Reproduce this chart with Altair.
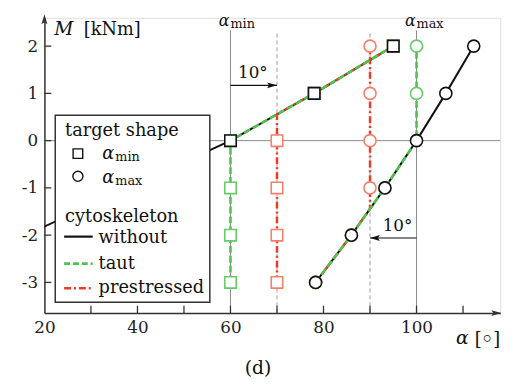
import altair as alt
import pandas as pd

# ---------------- data ----------------
M_levels = [-3, -2, -1, 0, 1, 2]

without_sq_alpha = [-6, 16, 38, 60, 78, 95]
without_ci_alpha = [78.3, 86, 93.2, 100, 106.3, 112.3]

taut_sq_alpha = [60, 60, 60, 60, 78, 95]
taut_ci_alpha = [78.3, 86, 93.2, 100, 100, 100]

pre_sq_alpha = [70, 70, 70, 70, 78, 95]
pre_ci_alpha = [78.3, 86, 90, 90, 90, 90]
# where the prestressed vertical branch meets the sloped branch
pre_sq_kink = (70, 0.56)
pre_ci_kink = (90, -1.44)

x_tick_labels = [20, 40, 60, 80, 100]
x_minor_ticks = [30, 40, 50, 60, 70, 80, 90, 100, 110]
y_tick_labels = [-3, -2, -1, 0, 1, 2]
ref_solid = [60, 100]
ref_dashed = [70, 90]

FONT = "DejaVu Serif"
BLACK = "#111111"
GREEN_L = "#4DC24D"
GREEN_M = "#66CC66"
RED_L = "#EE3B24"
RED_M = "#F5806A"
AX = "#333333"

W, H = 463, 300
xs = alt.Scale(domain=[20, 118], nice=False, zero=False)
ys = alt.Scale(domain=[-3.65, 2.6], nice=False, zero=False)
xa = alt.Axis(values=x_tick_labels, ticks=False, grid=False, domainColor=AX, domainWidth=1.5,
              labelFont=FONT, labelFontSize=17, labelColor="#222", labelPadding=7, labelFlush=False)
ya = alt.Axis(values=y_tick_labels, ticks=False, grid=False, domainColor=AX, domainWidth=1.5,
              labelFont=FONT, labelFontSize=17, labelColor="#222", labelPadding=7,
              labelExpr="'' + datum.value", labelFlush=False)


def X(f="x"):
    return alt.X(f"{f}:Q", scale=xs, axis=xa, title=None)


def Y(f="y"):
    return alt.Y(f"{f}:Q", scale=ys, axis=ya, title=None)


def path_df(xv, yv, kink=None, tag="a"):
    pts = list(zip(xv, yv))
    if kink is not None:
        out = []
        for i, p in enumerate(pts):
            out.append(p)
            if i + 1 < len(pts):
                q = pts[i + 1]
                lo, hi = min(p[1], q[1]), max(p[1], q[1])
                if lo < kink[1] < hi:
                    out.append(kink)
        pts = out
    return pd.DataFrame({"x": [p[0] for p in pts], "y": [p[1] for p in pts],
                         "i": list(range(len(pts))), "t": tag})


one = pd.DataFrame({"a": [0]})

# ---------------- reference lines ----------------
ref_top = 2.33
refs_solid = alt.Chart(pd.DataFrame({"x": ref_solid, "y": -3.65, "y2": ref_top})).mark_rule(
    color="#8a8a8a", strokeWidth=1).encode(x=X(), y=Y(), y2="y2:Q")
refs_dash = alt.Chart(pd.DataFrame({"x": ref_dashed, "y": -3.65, "y2": ref_top})).mark_rule(
    color="#9a9a9a", strokeWidth=1, strokeDash=[4, 3]).encode(x=X(), y=Y(), y2="y2:Q")
hline = alt.Chart(pd.DataFrame({"x": [20], "x2": [118], "y": [0]})).mark_rule(
    color="#8a8a8a", strokeWidth=1).encode(x=X(), x2="x2:Q", y=Y())

# axis ticks pointing inward
xticks = alt.Chart(pd.DataFrame({"x": x_minor_ticks})).mark_rule(color=AX, strokeWidth=1.3).encode(
    x=X(), y=alt.value(H), y2=alt.value(H - 7.5))
yticks = alt.Chart(pd.DataFrame({"y": y_tick_labels})).mark_rule(color=AX, strokeWidth=1.3).encode(
    y=Y(), x=alt.value(0), x2=alt.value(7))
arrow_up = "M0,0 L0.6,2 L0,1.6 L-0.6,2 Z"
arrow_right = "M0,0 L-2,-0.6 L-1.6,0 L-2,0.6 Z"
arrow_left = "M0,0 L2,-0.6 L1.6,0 L2,0.6 Z"
yarrow = alt.Chart(one).mark_point(shape=arrow_up, filled=True, color=AX, size=100, opacity=1).encode(
    x=alt.value(0), y=alt.value(-3.5))
xarrow = alt.Chart(one).mark_point(shape=arrow_right, filled=True, color=AX, size=100, opacity=1).encode(
    x=alt.value(464), y=alt.value(H))

# ---------------- curves ----------------
black_df = pd.concat([path_df(without_sq_alpha, M_levels, tag="sq"),
                      path_df(without_ci_alpha, M_levels, tag="ci")])
green_df = pd.concat([path_df(taut_sq_alpha, M_levels, tag="sq"),
                      path_df(taut_ci_alpha, M_levels, tag="ci")])
red_df = pd.concat([path_df(pre_sq_alpha, M_levels, pre_sq_kink, tag="sq"),
                    path_df(pre_ci_alpha, M_levels, pre_ci_kink, tag="ci")])

black_line = alt.Chart(black_df).mark_line(color=BLACK, strokeWidth=2, clip=True).encode(
    x=X(), y=Y(), order="i:Q", detail="t:N")
red_line = alt.Chart(red_df).mark_line(color=RED_L, strokeWidth=2.5, strokeDash=[7, 3, 2, 3], clip=True).encode(
    x=X(), y=Y(), order="i:Q", detail="t:N")
green_line = alt.Chart(green_df).mark_line(color=GREEN_L, strokeWidth=2.6, strokeDash=[7, 3], clip=True).encode(
    x=X(), y=Y(), order="i:Q", detail="t:N")


def markers(xv, color, shape, size=135):
    df = pd.DataFrame({"x": xv, "y": M_levels})
    return alt.Chart(df).mark_point(shape=shape, filled=True, fill="white", stroke=color, strokeWidth=1.6,
                                    size=size, opacity=1, fillOpacity=1, clip=True).encode(x=X(), y=Y())


mk = [
    markers(taut_sq_alpha, GREEN_M, "square"),
    markers(taut_ci_alpha, GREEN_M, "circle", 150),
    markers(pre_sq_alpha, RED_M, "square"),
    markers(pre_ci_alpha, RED_M, "circle", 150),
    markers(without_sq_alpha, BLACK, "square"),
    markers(without_ci_alpha, BLACK, "circle", 150),
]

# ---------------- annotations ----------------
ann_rules = alt.Chart(pd.DataFrame({"x": [60, 100], "x2": [70, 90], "y": [1.17, -2.06]})).mark_rule(
    color=BLACK, strokeWidth=1.2).encode(x=X(), x2="x2:Q", y=Y())
ann_head_r = alt.Chart(pd.DataFrame({"x": [70], "y": [1.17]})).mark_point(
    shape=arrow_right, filled=True, color=BLACK, size=100, opacity=1).encode(x=X(), y=Y())
ann_head_l = alt.Chart(pd.DataFrame({"x": [90], "y": [-2.06]})).mark_point(
    shape=arrow_left, filled=True, color=BLACK, size=100, opacity=1).encode(x=X(), y=Y())
ann_text = alt.Chart(pd.DataFrame({"x": [64.8, 95.9], "y": [1.42, -1.80], "s": ["10°", "10°"]})).mark_text(
    font=FONT, fontSize=17, color=BLACK, baseline="middle").encode(x=X(), y=Y(), text="s:N")

top_alpha = alt.Chart(pd.DataFrame({"x": [60, 100]})).mark_text(
    font=FONT, fontSize=16, fontStyle="italic", color=BLACK, align="right", baseline="alphabetic",
    dx=-1).encode(x=X(), y=alt.value(8), text=alt.value("α"))
top_sub = alt.Chart(pd.DataFrame({"x": [60, 100], "s": ["min", "max"]})).mark_text(
    font=FONT, fontSize=13, color=BLACK, align="left", baseline="alphabetic", dx=0).encode(
    x=X(), y=alt.value(10), text="s:N")


def txt(s, x, y, size=18, style="normal", align="left", baseline="alphabetic"):
    return alt.Chart(one).mark_text(text=s, font=FONT, fontSize=size, fontStyle=style, color=BLACK,
                                    align=align, baseline=baseline).encode(x=alt.value(x), y=alt.value(y))


labels = [
    txt("M", 10, 17.5, 19, "italic"),
    txt("[kNm]", 40, 17.5, 18),
    txt("α", 418, 331, 19, "italic"),
    txt("[", 437, 332, 18),
    txt("◦", 450, 327, 24, align="center", baseline="middle"),
    txt("]", 456, 332, 18),
    txt("(d)", 217, 362, 19, align="center"),
]

# ---------------- legend (drawn by hand) ----------------
leg_box = alt.Chart(one).mark_rect(fill="white", stroke=AX, strokeWidth=1.5).encode(
    x=alt.value(11), x2=alt.value(168), y=alt.value(99), y2=alt.value(289))
leg_sq = alt.Chart(one).mark_point(shape="square", filled=True, fill="white", stroke=BLACK, strokeWidth=1.4,
                                   size=95, opacity=1).encode(x=alt.value(34), y=alt.value(138))
leg_ci = alt.Chart(one).mark_point(shape="circle", filled=True, fill="white", stroke=BLACK, strokeWidth=1.4,
                                   size=105, opacity=1).encode(x=alt.value(34), y=alt.value(161))


def leg_line(y, color, dash=None, width=2.2):
    kw = dict(color=color, strokeWidth=width)
    if dash:
        kw["strokeDash"] = dash
    return alt.Chart(one).mark_rule(**kw).encode(x=alt.value(20), x2=alt.value(49), y=alt.value(y))


legend = [
    leg_box,
    txt("target shape", 21, 120, 18),
    leg_sq, leg_ci,
    txt("α", 71, 143.3, 18, "italic", align="right"),
    txt("min", 72, 145.5, 13),
    txt("α", 71, 167.7, 18, "italic", align="right"),
    txt("max", 72, 169.5, 13),
    txt("cytoskeleton", 21, 207, 18),
    leg_line(222.3, BLACK),
    txt("without", 55, 229, 18),
    leg_line(249.7, GREEN_L, [6, 3], 2.6),
    txt("taut", 55, 255, 18),
    leg_line(274.7, RED_L, [7, 3, 2, 3], 2.6),
    txt("prestressed", 55, 279.5, 18),
]

chart = alt.layer(
    refs_solid, refs_dash, hline,
    black_line, red_line, green_line,
    *mk,
    ann_rules, ann_head_r, ann_head_l, ann_text,
    top_alpha, top_sub,
    xticks, yticks, yarrow, xarrow,
    *labels,
    *legend,
).properties(
    width=W, height=H,
    autosize=alt.AutoSizeParams(type="none"),
    padding={"left": 37, "top": 7, "right": 16, "bottom": 64},
).configure_view(stroke=None).configure(background="white")

chart.save("out.html", embed_options={"renderer": "svg", "actions": False})
